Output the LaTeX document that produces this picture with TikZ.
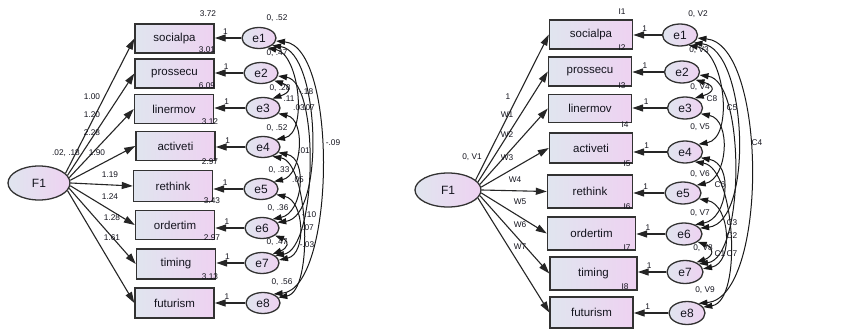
\documentclass[tikz,border=0pt]{standalone}
\usepackage{fontspec}
\setmainfont{Liberation Sans}
\usetikzlibrary{arrows.meta,shapes.geometric}
\definecolor{fillL}{RGB}{224,229,239}
\definecolor{fillR}{RGB}{238,210,241}
\definecolor{edge}{RGB}{50,50,50}
\definecolor{ink}{RGB}{20,20,30}
\tikzset{
  obs/.style={draw=edge, line width=1.4pt, left color=fillL, right color=fillR,
    minimum width=79pt, minimum height=29pt, inner sep=0pt, text=ink,
    font=\fontsize{11.5}{12}\selectfont},
  err/.style={ellipse, draw=edge, line width=1.3pt, left color=fillL, right color=fillR,
    minimum width=34pt, minimum height=21pt, inner sep=0pt, text=ink,
    font=\fontsize{12}{12}\selectfont},
  fac/.style={err, minimum width=62pt, minimum height=34pt},
  load/.style={-{Triangle[length=11pt,width=7pt]}, line width=1.1pt, draw=black!85},
  cov/.style={{Triangle[length=9pt,width=6pt]}-{Triangle[length=9pt,width=6pt]},
    line width=1pt, draw=black!90},
  lbl/.style={font=\fontsize{8.3}{8.3}\selectfont, inner sep=0pt, text=ink},
}
\begin{document}
\begin{tikzpicture}[x=1pt,y=-1pt]
\useasboundingbox[fill=white] (0,0) rectangle (860,329);

% ---------- estimated model ----------
\node[fac] (FL) at (39,183) {F1};
\node[obs] (bL1) at (174.5,38.5) {socialpa};
\node[obs] (bL2) at (174.5,73.5) {prossecu};
\node[obs] (bL3) at (174,109) {linermov};
\node[obs] (bL4) at (175.5,146) {activeti};
\node[obs, minimum height=31pt] (bL5) at (173,186) {rethink};
\node[obs] (bL6) at (175,225) {ordertim};
\node[obs, minimum height=30pt] (bL7) at (176,264) {timing};
\node[obs, minimum height=30pt] (bL8) at (174.5,303) {futurism};

\node[err] (eL1) at (259,38) {e1};
\node[err] (eL2) at (261,73) {e2};
\node[err] (eL3) at (263,108) {e3};
\node[err] (eL4) at (263,147) {e4};
\node[err] (eL5) at (261,189) {e5};
\node[err] (eL6) at (262,228) {e6};
\node[err] (eL7) at (262,263) {e7};
\node[err] (eL8) at (263,303) {e8};

% loadings
\foreach \i/\a in {1/20,2/15,3/10,4/5,5/0,6/-5,7/-10,8/-15}
  \draw[load] (FL.\a) -- (bL\i.west);
% error paths
\foreach \i in {1,...,8}
  \draw[load] (eL\i.west) -- node[lbl, pos=0.6, above=3pt] {1} (eL\i.west -| bL\i.east);
% error covariances
\foreach \a/\sa/\b/\eb/\k in {1/-10/8/40/62, 1/-30/6/20/48, 1/-50/4/30/32, 2/-30/3/45/18,
    2/-10/7/30/42, 3/-20/5/30/28, 4/-20/6/40/30, 5/-20/7/10/28, 6/-30/7/40/15, 4/-45/8/20/36}
  \draw[cov] (eL\a.\sa) .. controls +(\k,6) and +(\k,-6) .. (eL\b.\eb);

\node[lbl] (mF) at (66,153) {.02, .18};
\node[lbl] at (92,97) {1.00};
\node[lbl] at (92,115) {1.20};
\node[lbl] at (92,133) {2.28};
\node[lbl] at (97,153) {1.90};
\node[lbl] at (110,175) {1.19};
\node[lbl] at (110,197) {1.24};
\node[lbl] at (112,218) {1.28};
\node[lbl] at (112,238) {1.61};

\node[lbl] at (208,14) {3.72};
\node[lbl] at (207,50) {3.01};
\node[lbl] at (207,86) {6.09};
\node[lbl] at (210,122) {3.12};
\node[lbl] at (210,162) {2.97};
\node[lbl] at (212,201) {3.43};
\node[lbl] at (212,238) {2.97};
\node[lbl] at (210,277) {3.13};

\node[lbl] at (277,18) {0, .52};
\node[lbl] at (277,53) {0, .47};
\node[lbl] at (280,88) {0, .28};
\node[lbl] at (277,128) {0, .52};
\node[lbl] at (279,170) {0, .33};
\node[lbl] at (278,208) {0, .36};
\node[lbl] at (277,242) {0, .47};
\node[lbl] at (282,282) {0, .56};

\node[lbl] at (306,92) {-.18};
\node[lbl] at (289,99) {.11};
\node[lbl] at (299,108) {.03};
\node[lbl] at (309,108) {.07};
\node[lbl] at (304,151) {.01};
\node[lbl] at (333,143) {-.09};
\node[lbl] at (298,180) {.05};
\node[lbl] at (309,215) {-.10};
\node[lbl] at (308,228) {.07};
\node[lbl] at (307,245) {-.03};

% ---------- specified model ----------
\node[fac, minimum width=66pt] (FR) at (448,190) {F1};
\node[obs, minimum width=83pt] (bR1) at (591,34.5) {socialpa};
\node[obs, minimum width=83pt] (bR2) at (590,71.5) {prossecu};
\node[obs, minimum width=83pt, minimum height=28pt] (bR3) at (590,108.5) {linermov};
\node[obs, minimum width=83pt, minimum height=30pt] (bR4) at (591,148) {activeti};
\node[obs, minimum width=85pt, minimum height=33pt] (bR5) at (590,191.5) {rethink};
\node[obs, minimum width=88pt, minimum height=33pt] (bR6) at (591.5,233.5) {ordertim};
\node[obs, minimum width=87pt, minimum height=33pt] (bR7) at (593.5,273.5) {timing};
\node[obs, minimum width=83pt, minimum height=31pt] (bR8) at (591.5,312.5) {futurism};

\node[err, minimum width=35pt, minimum height=22pt] (eR1) at (680,35) {e1};
\node[err, minimum width=35pt, minimum height=22pt] (eR2) at (682,72) {e2};
\node[err, minimum width=35pt, minimum height=22pt] (eR3) at (685,108) {e3};
\node[err, minimum width=35pt, minimum height=22pt] (eR4) at (685,152) {e4};
\node[err, minimum width=36pt, minimum height=22pt] (eR5) at (683,193) {e5};
\node[err, minimum width=36pt, minimum height=22pt] (eR6) at (684,234) {e6};
\node[err, minimum width=36pt, minimum height=23pt] (eR7) at (685,272) {e7};
\node[err, minimum width=36pt, minimum height=23pt] (eR8) at (687,313) {e8};

\foreach \i/\a in {1/20,2/15,3/10,4/5,5/0,6/-5,7/-10,8/-15}
  \draw[load] (FR.\a) -- (bR\i.west);
\foreach \i in {1,...,8}
  \draw[load] (eR\i.west) -- node[lbl, pos=0.6, above=3pt] {1} (eR\i.west -| bR\i.east);
\foreach \a/\sa/\b/\eb/\k in {1/-10/8/40/70, 1/-30/6/20/54, 1/-50/4/30/36, 2/-30/3/45/20,
    2/-10/7/30/46, 3/-20/5/30/31, 4/-20/6/40/33, 5/-20/7/10/31, 6/-30/7/40/17, 4/-45/8/20/40}
  \draw[cov] (eR\a.\sa) .. controls +(\k,6) and +(\k,-6) .. (eR\b.\eb);

\node[lbl] at (472,157) {0, V1};
\node[lbl] at (508,97) {1};
\node[lbl] at (507,115) {W1};
\node[lbl] at (507,135) {W2};
\node[lbl] at (507,158) {W3};
\node[lbl] at (515,180) {W4};
\node[lbl] at (520,202) {W5};
\node[lbl] at (520,225) {W6};
\node[lbl] at (520,247) {W7};

\node[lbl] at (622,12) {I1};
\node[lbl] at (622,48) {I2};
\node[lbl] at (622,86) {I3};
\node[lbl] at (625,125) {I4};
\node[lbl] at (627,164) {I5};
\node[lbl] at (627,207) {I6};
\node[lbl] at (627,248) {I7};
\node[lbl] at (625,287) {I8};

\node[lbl] at (698,14) {0, V2};
\node[lbl] at (699,50) {0, V3};
\node[lbl] at (700,87) {0, V4};
\node[lbl] at (700,127) {0, V5};
\node[lbl] at (700,174) {0, V6};
\node[lbl] at (700,213) {0, V7};
\node[lbl] at (703,248) {0, V8};
\node[lbl] at (705,290) {0, V9};

\node[lbl] at (712,99) {C8};
\node[lbl] at (732,108) {C5};
\node[lbl] at (757,143) {C4};
\node[lbl] at (720,185) {C6};
\node[lbl] at (732,223) {C3};
\node[lbl] at (732,236) {C2};
\node[lbl] at (720,254) {C1};
\node[lbl] at (732,254) {C7};
\end{tikzpicture}
\end{document}
